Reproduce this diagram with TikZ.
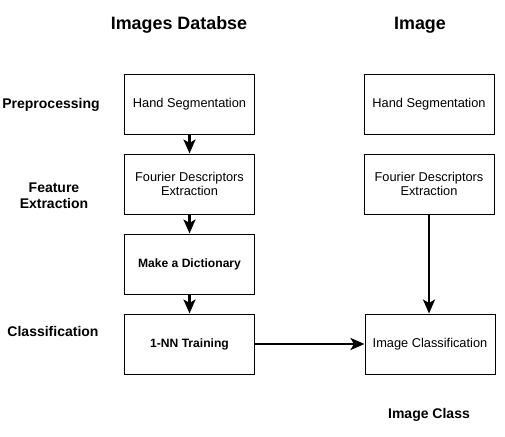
\documentclass[tikz,border=0pt]{standalone}
\usepackage{fontspec}
\setmainfont{Liberation Sans}
\usetikzlibrary{positioning,arrows.meta}
\tikzset{>={Stealth[length=14pt,width=12pt,inset=3.5pt]}}
\tikzset{stagebox/.style={draw=black, line width=1pt, minimum width=130pt, minimum height=60pt, align=center, font=\fontsize{12.8}{14}\selectfont},
         boldbox/.style={stagebox, font=\fontsize{12.1}{14}\selectfont\bfseries},
         headtext/.style={font=\fontsize{17.9}{20}\selectfont\bfseries},
         steptext/.style={align=center, font=\fontsize{14}{16}\selectfont\bfseries},
         flow/.style={->, line width=2.6pt}}

\begin{document}
\begin{tikzpicture}[x=1pt, y=-1pt]
                        \useasboundingbox (0,0) rectangle (505,436);
                        % column titles
                        \node[headtext] (dbtitle) at (179,25) {Images Databse};
                        \node[headtext] (imgtitle) at (420,25) {Image};

                        % stage names on the left
                        \node[steptext] (preproc) at (51,105) {Preprocessing};
                        \node[steptext] (featext) at (54,196) {Feature\\Extraction};
                        \node[steptext] (classif) at (53,331) {Classification};

                        % database column
                        \node[stagebox] (dbseg) at (189.5,104) {Hand Segmentation};
                        \node[stagebox, below=19pt of dbseg] (dbfour) {Fourier Descriptors\\Extraction};
                        \node[boldbox, below=19pt of dbfour] (dbdict) {Make a Dictionary};
                        \node[boldbox, below=19pt of dbdict] (dbtrain) {1-NN Training};

                        % image column
                        \node[stagebox] (imseg) at (429,104) {Hand Segmentation};
                        \node[stagebox, below=19pt of imseg] (imfour) {Fourier Descriptors\\Extraction};
                        \node[stagebox] (imclass) at (430,344) {Image Classification};
                        \node[steptext] (imresult) at (429,415) {Image Class};

                        \draw[flow] (dbseg) -- (dbfour);
                        \draw[flow] (dbfour) -- (dbdict);
                        \draw[flow] (dbdict) -- (dbtrain);
                        \draw[flow] (imfour) -- (imfour |- imclass.north);
                        \draw[flow] (dbtrain) -- (dbtrain -| imclass.west);
                    \end{tikzpicture}
\end{document}
